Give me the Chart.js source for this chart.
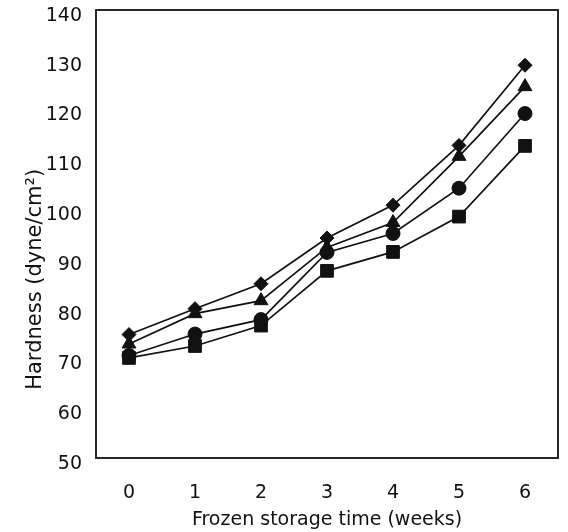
<!DOCTYPE html>
<html><head><meta charset="utf-8">
<script src="https://cdn.jsdelivr.net/npm/chart.js@4.4.1/dist/chart.umd.min.js"></script>
<style>html,body{margin:0;padding:0;background:#fff;overflow:hidden}</style>
</head><body>
<canvas id="c" width="568" height="532"></canvas>
<script>
const weeks = ['0', '1', '2', '3', '4', '5', '6'];
const seriesDiamond  = [74.8, 80.0, 85.0, 94.2, 100.8, 112.8, 128.9];
const seriesTriangle = [72.9, 79.0, 81.6, 92.3, 97.3, 110.6, 124.6];
const seriesCircle   = [70.6, 74.9, 77.8, 91.3, 95.1, 104.2, 119.2];
const seriesSquare   = [70.1, 72.5, 76.6, 87.6, 91.4, 98.5, 112.7];
const yMin = 50, yMax = 140, yStep = 10;
const xTitle = 'Frozen storage time (weeks)';
const yTitle = 'Hardness (dyne/cm\u00B2)';

const FONT = '"DejaVu Sans", sans-serif';
const INK = '#111';

function ds(label, data, style, radius) {
  return {
    label, data,
    borderColor: INK, backgroundColor: INK,
    borderWidth: 1.7, tension: 0,
    pointStyle: style, pointRadius: radius, pointHoverRadius: radius,
    pointBackgroundColor: INK, pointBorderColor: INK, pointBorderWidth: 1,
    clip: false
  };
}

const framePlugin = {
  id: 'frame',
  beforeDatasetsDraw(chart) {
    const {ctx, chartArea: a} = chart;
    ctx.save();
    ctx.strokeStyle = INK;
    ctx.lineWidth = 1.8;
    ctx.strokeRect(a.left, a.top, a.right - a.left, a.bottom - a.top);
    ctx.restore();
  }
};

new Chart(document.getElementById('c'), {
  type: 'line',
  data: {
    labels: weeks,
    datasets: [
      ds('Diamond', seriesDiamond, 'rectRot', 7),
      ds('Triangle', seriesTriangle, 'triangle', 8),
      ds('Circle', seriesCircle, 'circle', 7),
      ds('Square', seriesSquare, 'rect', 9)
    ]
  },
  options: {
    responsive: false,
    devicePixelRatio: 1,
    animation: false,
    layout: {padding: {top: 4, right: 5, left: 0, bottom: 0}},
    plugins: {legend: {display: false}, tooltip: {enabled: false}},
    scales: {
      x: {
        type: 'category',
        offset: true,
        grid: {display: false, drawTicks: false},
        border: {display: false},
        ticks: {color: INK, font: {family: FONT, size: 19}, padding: 24, maxRotation: 0},
        title: {display: true, text: xTitle, color: INK, font: {family: FONT, size: 19}, padding: {top: 0, bottom: 1}},
        afterFit(s) { s.height = 74; s.paddingLeft = 0; s.paddingRight = 0; }
      },
      y: {
        min: yMin, max: yMax,
        grid: {display: false, drawTicks: false},
        border: {display: false},
        ticks: {stepSize: yStep, color: INK, font: {family: FONT, size: 19}, padding: 14, labelOffset: 6},
        title: {display: true, text: yTitle + '\u2003\u2003\u2003\u2003 ', color: INK, font: {family: FONT, size: 21}, padding: {top: 23, bottom: 0}},
        afterFit(s) { s.width = 96; s.paddingTop = 0; s.paddingBottom = 0; }
      }
    }
  },
  plugins: [framePlugin]
});
</script>
</body></html>
